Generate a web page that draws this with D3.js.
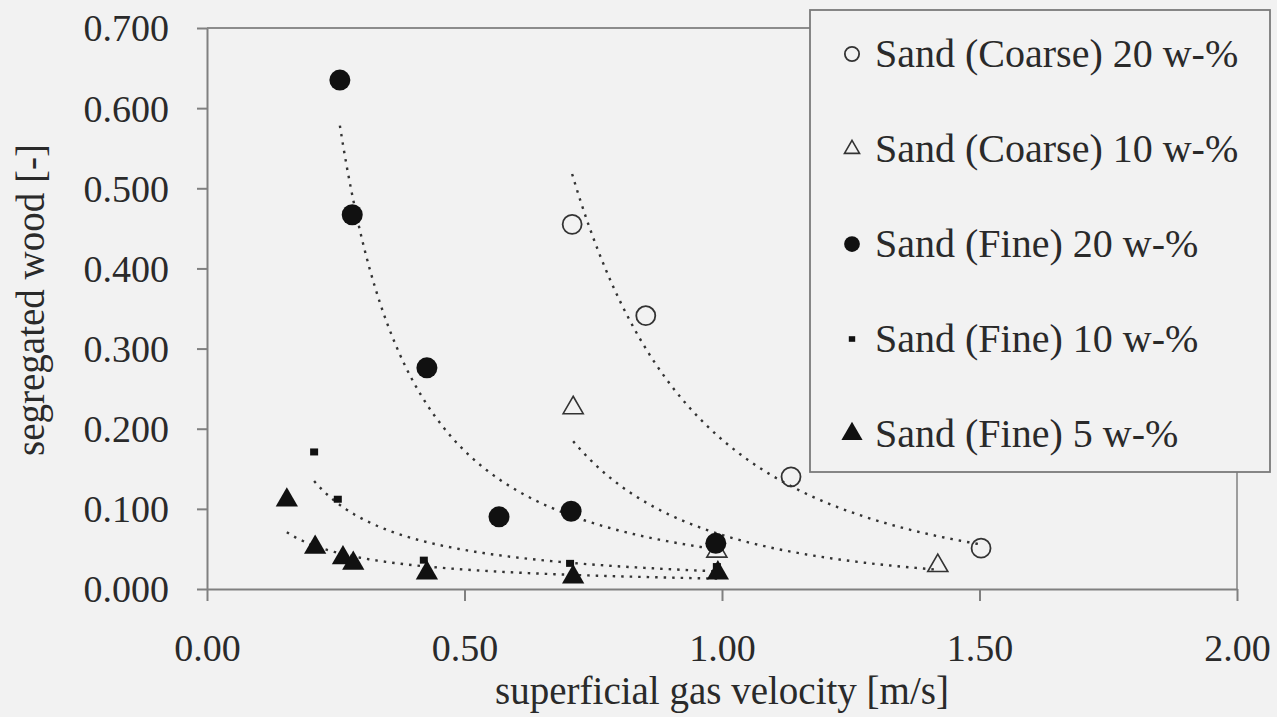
<!DOCTYPE html>
<html>
<head>
<meta charset="utf-8">
<script src="https://cdn.jsdelivr.net/npm/d3@7/dist/d3.min.js"></script>
<style>
  html, body { margin: 0; padding: 0; background: #f2f2f2; }
  svg { display: block; }
  text { font-family: "Liberation Serif", "DejaVu Serif", serif; fill: #2a2a2a; }
</style>
</head>
<body>
<svg id="chart" width="1277" height="717"></svg>
<script>
// ---- data ----
const coarse20X = [0.709, 0.852, 1.134, 1.503];
const coarse20Y = [0.455, 0.341, 0.140, 0.051];
const coarse10X = [0.711, 0.990, 1.419];
const coarse10Y = [0.226, 0.047, 0.029];
const fine20X = [0.258, 0.282, 0.427, 0.567, 0.707, 0.988];
const fine20Y = [0.635, 0.467, 0.276, 0.090, 0.097, 0.057];
const fine10X = [0.208, 0.254, 0.421, 0.705, 0.990];
const fine10Y = [0.171, 0.112, 0.036, 0.032, 0.028];
const fine5X = [0.155, 0.210, 0.264, 0.284, 0.427, 0.711, 0.992];
const fine5Y = [0.111, 0.052, 0.039, 0.032, 0.020, 0.015, 0.020];

const seriesNames = ["Sand (Coarse) 20 w-%", "Sand (Coarse) 10 w-%", "Sand (Fine) 20 w-%", "Sand (Fine) 10 w-%", "Sand (Fine) 5 w-%"];
const xTicks = [0, 0.5, 1.0, 1.5, 2.0];
const yTicks = [0, 0.1, 0.2, 0.3, 0.4, 0.5, 0.6, 0.7];
const xTitle = "superficial gas velocity [m/s]";
const yTitle = "segregated wood [-]";

// ---- build ----
const series = [
  {name: seriesNames[0], xs: coarse20X, ys: coarse20Y, type: "openCircle"},
  {name: seriesNames[1], xs: coarse10X, ys: coarse10Y, type: "openTriangle"},
  {name: seriesNames[2], xs: fine20X, ys: fine20Y, type: "filledCircle"},
  {name: seriesNames[3], xs: fine10X, ys: fine10Y, type: "square"},
  {name: seriesNames[4], xs: fine5X, ys: fine5Y, type: "filledTriangle"}
];

const svg = d3.select("#chart");
const L = 207, R = 1237, T = 28, B = 589;
const x = d3.scaleLinear().domain([0, 2]).range([L, R]);
const y = d3.scaleLinear().domain([0, 0.7]).range([B, T]);

const axisColor = "#808080";

// frame (top & right)
svg.append("line").attr("x1", L).attr("x2", R).attr("y1", T).attr("y2", T)
  .attr("stroke", "#6a6a6a").attr("stroke-width", 1.5);
svg.append("line").attr("x1", R).attr("x2", R).attr("y1", T).attr("y2", B)
  .attr("stroke", axisColor).attr("stroke-width", 1.5);

// axes
const xAxis = svg.append("g").attr("transform", `translate(0,${B})`)
  .call(d3.axisBottom(x).tickValues(xTicks).tickFormat(d3.format(".2f")).tickSize(12).tickSizeOuter(0).tickPadding(33));
const yAxis = svg.append("g").attr("transform", `translate(${L},0)`)
  .call(d3.axisLeft(y).tickValues(yTicks).tickFormat(d3.format(".3f")).tickSize(10).tickSizeOuter(0).tickPadding(28));
[xAxis, yAxis].forEach(g => {
  g.select(".domain").attr("stroke", axisColor).attr("stroke-width", 2);
  g.selectAll(".tick line").attr("stroke", axisColor).attr("stroke-width", 2);
  g.selectAll(".tick text").attr("font-size", 38).attr("fill", "#2a2a2a")
    .style("font-family", '"Liberation Serif", serif');
});
yAxis.selectAll(".tick text").attr("dy", "0.34em");

// titles
svg.append("text").attr("x", (L + R) / 2).attr("y", 704).attr("text-anchor", "middle")
  .attr("font-size", 39).text(xTitle);
svg.append("text").attr("transform", "translate(44,300) rotate(-90)").attr("text-anchor", "middle")
  .attr("font-size", 39).text(yTitle);

// power-law trend lines (least-squares fit in log-log space, as in the source)
function powerFit(xs, ys) {
  const lx = xs.map(Math.log), ly = ys.map(Math.log);
  const mx = d3.mean(lx), my = d3.mean(ly);
  let sxy = 0, sxx = 0;
  for (let i = 0; i < lx.length; i++) { sxy += (lx[i] - mx) * (ly[i] - my); sxx += (lx[i] - mx) ** 2; }
  const b = sxy / sxx;
  const a = Math.exp(my - b * mx);
  return v => a * Math.pow(v, b);
}
const line = d3.line().x(d => x(d[0])).y(d => y(d[1])).curve(d3.curveLinear);
series.forEach(s => {
  const f = powerFit(s.xs, s.ys);
  const [x0, x1] = d3.extent(s.xs);
  const pts = d3.range(0, 101).map(i => { const v = x0 + (x1 - x0) * i / 100; return [v, f(v)]; });
  svg.append("path").attr("d", line(pts)).attr("fill", "none")
    .attr("stroke", "#333").attr("stroke-width", 2.4).attr("stroke-dasharray", "2.5,6");
});

// markers
function drawMarker(g, type, cx, cy, scale) {
  const k = scale || 1;
  if (type === "openCircle") {
    g.append("circle").attr("cx", cx).attr("cy", cy).attr("r", 9.5 * k)
      .attr("fill", "none").attr("stroke", "#333").attr("stroke-width", 1.8);
  } else if (type === "filledCircle") {
    g.append("circle").attr("cx", cx).attr("cy", cy).attr("r", 10.5 * k).attr("fill", "#111");
  } else if (type === "openTriangle") {
    g.append("path").attr("transform", `translate(${cx},${cy})`)
      .attr("d", d3.symbol().type(d3.symbolTriangle).size(175 * k * k)())
      .attr("fill", "none").attr("stroke", "#333").attr("stroke-width", 1.6);
  } else if (type === "filledTriangle") {
    g.append("path").attr("transform", `translate(${cx},${cy})`)
      .attr("d", d3.symbol().type(d3.symbolTriangle).size(215 * k * k)())
      .attr("fill", "#111");
  } else if (type === "square") {
    g.append("rect").attr("x", cx - 4 * k).attr("y", cy - 3.5 * k).attr("width", 8 * k).attr("height", 7 * k)
      .attr("fill", "#111");
  }
}
const mg = svg.append("g");
series.forEach(s => {
  s.xs.forEach((v, i) => drawMarker(mg, s.type, x(v), y(s.ys[i]), 1));
});

// legend
const lg = svg.append("g");
lg.append("rect").attr("x", 810).attr("y", 10).attr("width", 460).attr("height", 462)
  .attr("fill", "#f2f2f2").attr("stroke", "#7a7a7a").attr("stroke-width", 1.8);
series.forEach((s, i) => {
  const by = 67 + i * 95;
  const cy = by - 13;
  const k = s.type === "square" ? 0.8 : (s.type === "filledTriangle" ? 0.95 : 0.75);
  drawMarker(lg, s.type, 852, cy, k);
  lg.append("text").attr("x", 875).attr("y", by).attr("font-size", 40).text(s.name);
});
</script>
</body>
</html>
